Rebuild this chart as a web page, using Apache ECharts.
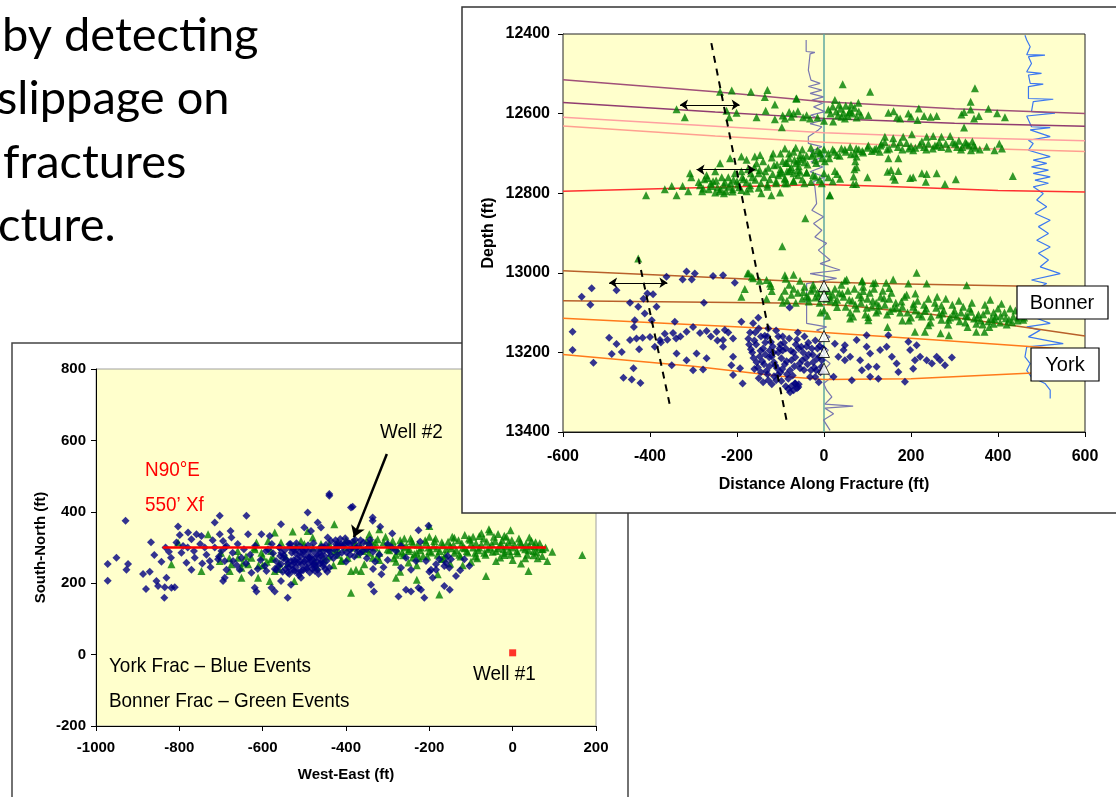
<!DOCTYPE html>
<html lang="en">
<head>
<meta charset="UTF-8">
<title>Microseismic events</title>
<script src="https://cdn.jsdelivr.net/npm/echarts@6/dist/echarts.min.js"></script>
<style>
  html, body { margin: 0; padding: 0; background: #fff; }
  #main { width: 1116px; height: 797px; }
</style>
</head>
<body>
<div id="main"></div>
<script type="text/javascript">
// ---- plan view (bottom-left), West-East vs South-North, ft ----
var planBlue = [
  [-929,375],[-972,254],[-972,207],[-951,271],[-923,254],[-927,238],[-887,226],[-871,232],[-868,315],[-880,184],
  [-855,206],[-851,192],[-835,189],[-831,215],[-819,187],[-811,189],[-836,159],[-860,279],[-843,260],[-833,300],
  [-820,271],[-825,288],[-803,359],[-799,335],[-807,314],[-791,304],[-779,342],[-771,323],[-795,285],[-783,257],
  [-771,238],[-763,271],[-759,337],[-747,332],[-739,300],[-727,262],[-715,300],[-703,389],[-715,370],[-703,337],
  [-695,318],[-687,304],[-677,346],[-675,328],[-699,290],[-691,262],[-687,238],[-671,262],[-639,389],[-635,337],
  [-655,238],[-603,337],[-583,332],[-587,295],[-595,248],[-591,234],[-627,229],[-567,238],[-556,365],[-560,300],
  [-536,309],[-532,262],[-500,356],[-492,398],[-484,346],[-468,370],[-460,356],[-444,328],[-440,243],[-452,300],
  [-424,309],[-412,309],[-396,314],[-388,412],[-440,445],[-336,375],[-579,187],[-571,177],[-540,159],[-556,206],
  [-532,196],[-508,215],[-508,234],[-488,271],[-472,248],[-460,276],[-516,257],[-524,234],[-619,187],[-615,177],
  [-691,215],[-695,206],[-707,267],[-651,271],
  [-440,290],[-430,270],[-420,300],[-410,285],[-400,260],[-390,295],[-380,275],[-370,305],[-360,290],[-350,270],
  [-340,300],[-425,320],[-405,310],[-385,315],[-365,320],[-345,310],[-440,450],[-384,414],
  [-336,384],[-318,358],[-289,339],[-226,348],[-202,361],[-222,316],[-268,304],[-256,271],[-268,243],[-244,238],
  [-232,262],[-208,262],[-200,232],[-192,215],[-184,253],[-176,267],[-164,248],[-160,257],[-148,267],[-152,243],
  [-136,220],[-126,236],[-116,267],[-104,248],[-340,196],[-333,177],[-274,163],[-256,182],[-244,177],[-226,187],
  [-220,182],[-212,159],[-164,192],[-151,182],[-196,238],[-184,238],[-156,276],
  [-320,280],[-300,265],[-290,300],[-310,245],[-330,260],[-280,290],[-300,310],[-335,240],[-315,225],
  [-780,300],[-765,290],[-750,310],[-735,280],[-720,320],[-705,275],[-690,300],[-672,285],[-660,310],[-645,295],
  [-630,280],[-618,305],[-605,265],[-592,290],[-578,310],[-745,255],[-725,245],[-662,250],[-640,255],[-612,240]
];
// the solid navy mass west of Well #2
var planBlueCore = [
  [-568,262],[-562,248],[-558,276],[-552,232],[-547,292],[-543,266],[-538,244],[-533,310],[-528,238],[-524,258],
  [-521,284],[-517,270],[-513,222],[-509,302],[-506,252],[-502,288],[-498,266],[-494,244],[-491,306],[-487,230],
  [-484,262],[-479,290],[-476,252],[-472,272],[-468,238],[-463,284],[-459,302],[-455,248],[-451,276],[-447,262],
  [-443,292],[-560,300],[-536,226],[-519,312],[-503,236],[-489,272],[-478,312],[-466,226],[-454,290],[-445,232],
  [-575,284],[-571,240],[-556,254],[-549,278],[-527,296],[-511,286],[-496,296],[-481,240],[-462,256],[-448,308],
  [-550,270],[-540,255],[-530,285],[-520,245],[-510,275],[-500,260],[-490,290],[-480,250],[-470,280],[-460,265],
  [-450,240],[-545,240],[-535,300],[-525,265],[-515,230],[-505,295],[-495,240],[-485,275],[-475,235],[-465,295],
  [-455,255],[-555,285],[-540,230],[-520,295],[-500,280],[-480,265],[-530,250],[-510,260],[-490,255],[-470,260],
  [-436,318],[-428,296],[-421,280],[-414,324],[-407,302],[-399,286],[-393,312],[-386,298],[-378,322],[-372,288],
  [-436,278],[-418,308],[-402,326],[-390,280],[-375,300],[-366,284],[-358,314],[-350,296],[-342,322],[-335,288]
];
var planGreen = [
  [-819,253],[-803,314],[-747,234],[-731,337],[-703,262],[-679,234],[-675,253],[-659,271],[-651,243],[-651,215],
  [-647,257],[-635,253],[-627,271],[-619,295],[-615,314],[-603,285],[-611,215],[-587,318],[-583,206],[-571,342],
  [-575,271],[-571,234],[-556,314],[-528,345],[-524,206],[-508,318],[-492,346],[-480,328],[-476,262],[-452,267],
  [-428,365],[-428,290],[-412,262],[-396,271],[-388,173],[-380,309],[-372,281],[-364,234],[-356,253],[-348,304],
  [-340,318],[-336,271],[-610,250],[-600,275],[-590,260],[-580,290],[-560,255],[-545,275],[-430,250],[-420,280],
  [-410,265],[-440,275],[-460,300],[-470,245],
  [-700,285],[-680,270],[-660,290],[-640,275],[-620,300],[-600,250],[-580,268],[-560,240],[-540,255],[-520,305],
  [-500,310],[-480,300],[-460,310],[-440,300],[-420,315],[-400,300],[-380,320],[-365,305],[-345,285],[-320,265],
  [-324,323],[-344,337],[-320,351],[-200,360],[-176,168],[-64,220],[-57,351],[-20,279],[0,265],[20,255],
  [38,234],[-5,348],[83,262],[95,288],[71,276],[167,279],[-388,234],[-376,238],[-280,260],[-250,258],
  [-230,250],[-150,255],[-120,250],[-100,260],[-40,262],[30,270],[60,270],[-440,310],[-420,295],[-400,320],
  [-380,300],[-360,290],[-350,320],[-280,215],[-270,232],[-230,210],[-180,225]
];
// the solid green band along the trend east of Well #2
var planGreenCore = [
  [-330,300],[-320,285],[-310,315],[-300,295],[-290,305],[-280,280],[-270,320],[-260,300],[-250,290],[-240,310],
  [-230,285],[-220,300],[-210,320],[-200,290],[-190,305],[-180,280],[-170,315],[-160,295],[-150,305],[-140,285],
  [-130,320],[-120,300],[-110,290],[-100,310],[-90,285],[-80,300],[-70,325],[-60,295],[-50,310],[-40,290],
  [-30,305],[-20,285],[-10,315],[0,300],[10,290],[20,310],[30,295],[40,305],[50,290],[60,300],
  [70,295],[79,300],[-325,275],[-305,330],[-285,270],[-265,285],[-245,325],[-225,270],[-205,275],[-185,325],
  [-165,270],[-145,330],[-125,275],[-105,325],[-85,270],[-65,280],[-45,330],[-25,320],[-5,280],[15,325],
  [35,280],[55,315],[-115,335],[-75,340],[-35,338],[-55,345],[-95,330],[-15,330],
  [-296,292],[-288,318],[-282,300],[-275,290],[-268,312],[-262,278],[-255,305],[-248,296],[-242,318],[-236,282],
  [-228,308],[-222,292],[-215,276],[-208,314],[-202,300],[-195,286],[-188,318],[-182,298],[-175,290],[-168,306],
  [-162,280],[-155,316],[-148,298],[-142,308],[-135,292],[-128,280],[-122,312],[-115,298],[-108,286],[-102,322],
  [-95,300],[-88,312],[-82,292],[-75,308],[-68,285],[-62,316],[-55,300],[-48,288],[-42,318],[-35,298],
  [-28,310],[-22,295],[-15,303],[-8,290],[-2,320],[5,306],[12,284],[18,316],[25,300],[32,310],
  [38,292],[45,318],[52,304],[58,286],[65,312],[72,296],[-260,325],[-200,330],[-140,327],[-80,332],
  [-20,333],[40,328],[-240,272],[-170,268],[-90,275],[-30,272],[50,278],[-300,310],[-350,295],[-330,315]
];
var fracTrend = [[-840,300],[80,300]];
var well1 = [[0,5]];
var well2Arrow = [[-302,562],[-381,329]];

// ---- section view (top-right), distance along fracture vs depth, ft ----
var bonnerEvents = [
  [-339,12589],[-320,12609],[-239,12545],[-212,12542],[-168,12545],[-130,12541],[-136,12558],[-113,12577],[-63,12562],[-224,12593],
  [-218,12609],[-201,12598],[-155,12609],[-134,12593],[-113,12614],[-97,12634],[-95,12605],[-80,12596],[-70,12600],[-60,12594],
  [-48,12609],[-32,12612],[-15,12610],[0,12618],[21,12620],[43,12526],[25,12566],[10,12590],[15,12600],[20,12582],
  [28,12595],[32,12605],[38,12588],[45,12598],[50,12580],[55,12606],[60,12592],[65,12600],[70,12585],[75,12610],
  [80,12595],[35,12578],[48,12612],[62,12578],[85,12604],[40,12608],[58,12596],[106,12545],[79,12573],[102,12604],
  [148,12598],[160,12594],[168,12609],[175,12612],[194,12600],[200,12608],[215,12616],[218,12587],[230,12606],[245,12608],
  [259,12606],[316,12602],[322,12596],[337,12570],[337,12590],[345,12612],[356,12606],[347,12536],[378,12588],[398,12599],
  [416,12609],[322,12635],[-64,12562],[-40,12604],[-90,12612],[-75,12608],
  [140,12658],[159,12662],[182,12658],[202,12652],[236,12658],[251,12656],[270,12658],[290,12656],
  [130,12680],[140,12672],[150,12688],[160,12676],[170,12684],[180,12690],[190,12674],[200,12682],[210,12686],[220,12678],
  [230,12684],[240,12676],[250,12688],[260,12680],[270,12684],[280,12676],[145,12690],[175,12672],[205,12692],[235,12690],
  [265,12672],[195,12688],[225,12670],[255,12680],[301,12676],[310,12668],[318,12684],[325,12672],[333,12680],[341,12670],
  [348,12686],[315,12690],[338,12692],[374,12683],[392,12692],[409,12688],[403,12676],
  [-100,12700],[-90,12688],[-80,12712],[-70,12696],[-60,12720],[-50,12690],[-40,12706],[-30,12686],[-20,12716],[-10,12698],
  [0,12690],[-85,12724],[-55,12704],[-25,12700],[-5,12712],[-65,12686],[-45,12722],[-15,12692],
  [10,12700],[20,12690],[30,12704],[40,12688],[50,12696],[60,12684],[70,12700],[80,12690],[90,12698],[100,12686],
  [110,12694],[120,12688],[128,12696],[75,12735],[148,12712],[171,12712],[154,12742],[171,12744],
  [-100,12750],[-90,12762],[-80,12745],[-70,12770],[-60,12755],[-50,12765],[-40,12748],[-30,12772],[-20,12758],[-10,12766],
  [0,12750],[10,12760],[20,12770],[30,12752],[37,12764],[-85,12775],[-45,12775],[-5,12775],[25,12744],
  [68,12758],[100,12760],[146,12746],[159,12758],[163,12766],[198,12762],[205,12760],[225,12750],[236,12752],[259,12750],
  [234,12771],[278,12777],[303,12765],[434,12757],[74,12777],[14,12805],
  [-409,12805],[-366,12790],[-339,12805],[-312,12795],[-350,12782],[-325,12782],[-308,12750],[-305,12760],
  [-285,12780],[-275,12765],[-265,12790],[-255,12770],[-245,12785],[-235,12760],[-225,12795],[-215,12775],[-205,12750],[-195,12785],
  [-185,12765],[-178,12795],[-270,12755],[-250,12745],[-230,12780],[-210,12790],[-200,12770],[-190,12745],[-260,12775],[-240,12795],
  [-220,12760],[-280,12795],[-239,12725],[-216,12712],[-190,12708],[-178,12716],[-159,12708],[-147,12704],[-117,12700],
  [-175,12740],[-165,12760],[-155,12725],[-145,12775],[-135,12745],[-125,12765],[-115,12730],[-105,12755],[-95,12720],[-85,12745],
  [-75,12735],[-65,12725],[-55,12715],[-170,12780],[-150,12750],[-130,12784],[-110,12775],[-90,12765],[-120,12710],[-100,12740],
  [-80,12700],[-160,12735],[-140,12720],[-70,12750],[-60,12742],[-144,12800],[-121,12805],[-101,12798],[-55,12746],[-40,12748],
  [-25,12754],[13,12805],[67,12777],[70,12740],[72,12720],[75,12708],
  [-43,12863],[-96,12933],[-427,12964],
  [-190,13060],[-182,13041],[-176,13002],[-166,13010],[-148,13020],[-132,13018],[-132,13065],[-122,13033],[-120,13046],[-124,13027],
  [-173,13001],[-163,13014],
  [-98,13060],[-90,13045],[-85,13070],[-80,13030],[-75,13055],[-70,13040],[-65,13075],[-60,13050],[-55,13020],[-50,13065],
  [-45,13035],[-40,13058],[-35,13072],[-30,13045],[-25,13030],[-20,13062],[-15,13050],[-10,13075],[-5,13040],[5,13065],
  [10,13045],[15,13070],[20,13055],[25,13040],[30,13068],[35,13050],[-95,13075],[-70,13005],[-88,13015],[-90,13006],
  [40,13030],[45,13060],[50,13085],[55,13045],[60,13100],[65,13070],[70,13040],[75,13090],[80,13055],[85,13075],
  [90,13035],[95,13105],[100,13065],[105,13050],[110,13085],[115,13040],[120,13075],[125,13095],[130,13060],[135,13045],
  [140,13080],[145,13105],[150,13065],[155,13050],[159,13090],[48,13020],[88,13020],[118,13025],[67,13110],[102,13111],
  [52,13017],[87,13022],[113,13026],[143,13025],[159,13017],[194,13027],[213,13000],[236,13027],[328,13031],
  [165,13075],[175,13100],[185,13060],[195,13120],[205,13085],[215,13070],[225,13110],[235,13090],[245,13125],[255,13075],
  [265,13105],[275,13095],[285,13130],[295,13080],[305,13110],[315,13100],[325,13125],[335,13090],[345,13115],[355,13105],
  [365,13130],[375,13095],[385,13115],[395,13110],[405,13125],[415,13100],[425,13118],[435,13110],[445,13120],[451,13105],
  [180,13085],[210,13095],[240,13065],[270,13118],[300,13095],[330,13110],[360,13120],[390,13100],[420,13130],[190,13055],
  [260,13060],[320,13085],[350,13128],[380,13136],[200,13112],[290,13112],[230,13080],[310,13070],[340,13075],[280,13065],
  [370,13080],[400,13090],[440,13095],[460,13112],[470,13106],[209,13148],[232,13148],[268,13152],[287,13157],[350,13148],
  [369,13148],[60,13115],[102,13119],[146,13136],[382,13068],[408,13078],[428,13090],[0,13095],[8,13108],[-8,13100]
];
// extra events filling the dense parts of the green bands
var bonnerCore = [
  [-288,12772],[-278,12788],[-268,12762],[-258,12782],[-248,12768],[-238,12790],[-228,12772],[-218,12784],[-208,12766],[-198,12778],
  [-188,12760],[-178,12772],[-168,12750],[-158,12766],[-148,12742],[-138,12760],[-128,12736],[-118,12752],[-108,12728],[-98,12746],
  [-88,12724],[-78,12740],[-68,12716],[-58,12732],[-48,12710],[-38,12728],[-28,12706],[-18,12724],[-8,12700],[2,12720],
  [-250,12798],[-230,12800],[-210,12796],[-190,12792],[-170,12788],[-150,12786],[-130,12778],[-110,12770],[-90,12775],[-70,12768],
  [12,12712],[24,12696],[36,12706],[48,12690],[62,12702],[74,12688],[88,12694],[102,12680],[116,12690],[132,12676],
  [286,12688],[296,12672],[306,12684],[328,12676],[344,12680],[358,12690],
  [-48,13048],[-36,13062],[-24,13040],[-12,13058],[2,13046],[14,13060],[26,13074],[42,13052],[58,13068],[72,13080],
  [86,13062],[98,13088],[112,13070],[126,13082],[138,13064],[152,13096],[166,13088],[178,13072],[192,13100],[206,13078],
  [218,13104],[232,13096],[246,13110],[258,13088],[272,13102],[286,13118],[298,13104],[312,13122],[326,13108],[338,13098],
  [352,13112],[366,13104],[378,13122],[392,13116],[406,13108],[418,13114],[432,13124],[446,13112],[458,13118],[466,13098],
  [30,13086],[90,13046],[150,13038],[210,13052],[270,13082],[330,13136],[390,13128],[120,13100],[180,13120],[240,13132]
];
var yorkEvents = [
  [-557,13060],[-534,13039],[-537,13080],[-477,13044],[-446,13075],[-427,13085],[-415,13065],[-406,13052],[-393,13054],[-385,13085],
  [-412,13102],[-396,13119],[-435,13119],[-437,13136],[-578,13148],[-578,13194],[-494,13163],[-477,13179],[-488,13204],[-465,13199],
  [-446,13169],[-431,13165],[-417,13163],[-425,13192],[-400,13161],[-530,13226],[-461,13264],[-442,13268],[-422,13277],[-438,13240],
  [-350,13232],[-389,13186],[-377,13169],[-366,13153],[-347,13151],[-343,13123],[-316,13148],[-301,13136],[-285,13151],[-270,13146],
  [-247,13148],[-228,13144],[-232,13169],[-209,13165],[-190,13123],[-163,13127],[-151,13113],[-339,13203],[-316,13220],[-293,13203],
  [-301,13245],[-278,13243],[-270,13215],[-232,13186],[-209,13211],[-213,13232],[-193,13240],[-187,13278],[-209,13257],
  [-362,13010],[-316,12997],[-297,13002],[-255,13008],[-232,13006],[-205,13025],[-276,13075],[-325,13017],[-304,13017],
  [-375,13175],[-360,13168],[-340,13165],[-330,13160],[-260,13160],[-245,13170],[-220,13150],
  [-170,13150],[-160,13170],[-150,13140],[-140,13190],[-130,13160],[-120,13210],[-110,13145],[-100,13180],[-90,13230],[-80,13165],
  [-70,13200],[-60,13150],[-50,13220],[-40,13185],[-30,13245],[-20,13170],[-10,13210],[-165,13200],[-155,13225],[-145,13250],
  [-135,13175],[-125,13235],[-115,13260],[-105,13200],[-95,13160],[-85,13255],[-75,13220],[-65,13180],[-55,13240],[-45,13160],
  [-35,13205],[-25,13225],[-15,13190],[-172,13180],[-158,13150],[-148,13210],[-138,13230],[-128,13140],[-118,13185],[-108,13240],
  [-98,13215],[-88,13190],[-78,13245],[-68,13235],[-58,13190],[-48,13200],[-38,13230],[-28,13190],[-18,13245],[-150,13265],
  [-140,13275],[-130,13255],[-120,13280],[-110,13270],[-100,13250],[-145,13160],[-135,13205],[-125,13195],[-115,13225],[-105,13160],
  [-95,13195],[-75,13285],[-70,13295],[-62,13290],[-58,13280],[-66,13278],[-79,13087],[-20,13262],[-8,13250],[-5,13220],
  [-12,13275],[-2,13190],
  [25,13178],[48,13182],[45,13194],[75,13169],[98,13157],[98,13186],[106,13203],[129,13194],[144,13186],[156,13211],
  [167,13228],[171,13249],[186,13274],[194,13173],[198,13194],[213,13182],[209,13220],[205,13241],[221,13211],[236,13220],
  [248,13228],[259,13211],[267,13220],[278,13232],[294,13213],[60,13211],[64,13270],[83,13220],[87,13245],[102,13236],
  [106,13261],[125,13266],[148,13157],[48,13220],[33,13211],[22,13261],[-67,13278],[-59,13287],[121,13236]
];
var yorkCore = [
  [-174,13166],[-168,13192],[-162,13214],[-156,13180],[-152,13238],[-146,13196],[-142,13222],[-136,13158],[-132,13246],[-126,13212],
  [-122,13174],[-116,13200],[-112,13232],[-106,13256],[-102,13190],[-96,13242],[-92,13176],[-86,13222],[-82,13266],[-76,13196],
  [-72,13258],[-66,13212],[-62,13168],[-56,13228],[-52,13186],[-46,13244],[-42,13214],[-36,13176],[-32,13262],[-26,13206],
  [-22,13238],[-16,13216],[-10,13184],[-6,13236],[-160,13242],[-128,13270],[-98,13272],[-88,13285],[-82,13292],[-78,13300]
];
var perfShots = [[0,13033],[0,13058],[0,13159],[0,13199],[0,13241]];
var wellTrace = [[0,12400],[0,13400]];
var topMarker1 = [[-600,12515],[-250,12545],[0,12570],[300,12588],[600,12600]];
var topMarker2 = [[-600,12572],[-250,12596],[0,12612],[300,12624],[600,12632]];
var topMarker3 = [[-600,12609],[-250,12632],[0,12648],[300,12660],[600,12668]];
var topMarker4 = [[-600,12631],[-250,12656],[0,12672],[300,12686],[600,12695]];
var topMarker5 = [[-600,12795],[-250,12785],[0,12778],[150,12783],[400,12793],[600,12797]];
var bonnerTop = [[-600,12995],[-355,13007],[-67,13021],[125,13027],[442,13033],[600,13035]];
var bonnerBase = [[-600,13070],[-100,13076],[50,13082],[250,13105],[450,13135],[600,13159]];
var yorkTop = [[-600,13114],[-100,13141],[0,13150],[250,13168],[480,13186],[600,13195]];
var yorkBase = [[-600,13205],[-300,13235],[-100,13260],[0,13268],[200,13266],[480,13252],[600,13250]];
var faultLong = [[-259,12423],[-86,13371]];
var faultShort = [[-427,12961],[-355,13329]];
var widthArrows = [
  [[-331,12578],[-194,12578]],
  [[-293,12741],[-158,12741]],
  [[-494,13025],[-360,13025]]
];
var grayLog = [
  [-41,12415],[-41,12444],[-21,12446],[-21,12448],[-32,12450],[-36,12491],[-30,12516],[-9,12524],[-36,12532],[-5,12541],
  [-32,12549],[-1,12558],[-28,12566],[-3,12574],[-24,12583],[2,12595],[-30,12604],[-1,12616],[-32,12625],[-5,12633],
  [-13,12641],[-36,12658],[-36,12675],[-5,12683],[-32,12696],[-1,12708],[-30,12721],[-3,12734],[-32,12746],[2,12759],
  [-24,12771],[-21,12784],[-17,12826],[-28,12843],[-1,12859],[-24,12876],[-5,12893],[-21,12910],[6,12926],[-13,12943],
  [14,12968],[-9,12977],[37,12993],[-32,13002],[29,13014],[-40,13027],[-40,13127],[6,13136],[-17,13144],[14,13161],
  [-13,13178],[10,13194],[-5,13211],[14,13228],[-1,13245],[18,13262],[-1,13278],[6,13295],[18,13312],[2,13330],
  [67,13335],[2,13340],[22,13354],[-1,13370],[14,13396]
];
var blueLog = [
  [462,12403],[466,12415],[474,12432],[466,12452],[508,12453],[470,12457],[477,12474],[466,12495],[500,12499],[470,12503],
  [474,12524],[504,12526],[470,12532],[470,12562],[527,12564],[481,12570],[477,12595],[531,12599],[466,12606],[477,12633],
  [520,12635],[474,12641],[520,12658],[470,12667],[481,12675],[470,12692],[520,12708],[481,12717],[512,12725],[477,12734],
  [516,12742],[481,12750],[520,12759],[485,12767],[516,12775],[481,12784],[504,12801],[489,12817],[512,12834],[485,12851],
  [520,12868],[493,12884],[516,12901],[489,12918],[520,12935],[493,12951],[516,12968],[497,12985],[543,13002],[477,13018],
  [512,13027],[481,13044],[508,13060],[477,13077],[497,13094],[481,13111],[520,13127],[466,13136],[497,13144],[470,13161],
  [550,13178],[466,13186],[462,13211],[474,13228],[466,13245],[477,13262],[508,13278],[520,13295],[520,13316]
];

var FONT = 'Liberation Sans';

function valueAxis(grid, min, max, size, labelMargin, extra) {
  var a = {
    type: 'value', gridIndex: grid, min: min, max: max, interval: 200,
    axisLine: { show: true, onZero: false, lineStyle: { color: '#000', width: 1 } },
    axisTick: { show: true, inside: false, length: 5, lineStyle: { color: '#000' } },
    splitLine: { show: false },
    axisLabel: { margin: labelMargin, color: '#000', fontFamily: FONT, fontWeight: 'bold', fontSize: size,
      formatter: function (v) { return String(v); } },
    nameTextStyle: { color: '#000', fontFamily: FONT, fontWeight: 'bold', fontSize: size },
    zlevel: grid
  };
  for (var k in extra) a[k] = extra[k];
  return a;
}

function sectionLine(data, color, width) {
  return {
    type: 'line', xAxisIndex: 1, yAxisIndex: 1, zlevel: 1, z: 3, data: data,
    symbol: 'none', silent: true,
    lineStyle: { color: color, width: width || 1.5 }
  };
}

function note(text, x, y, color) {
  return { type: 'text', x: x, y: y, scaleX: 0.9, zlevel: 0, z: 10,
    style: { text: text, font: '21px ' + FONT, fill: color || '#000', verticalAlign: 'middle' } };
}

var chart = echarts.init(document.getElementById('main'), null, { renderer: 'canvas' });

var option = {
  animation: false,
  backgroundColor: '#fff',
  grid: [
    { left: 96, top: 369, width: 500, height: 357, show: true, backgroundColor: '#ffffcc',
      borderColor: '#a0a0a0', borderWidth: 1, zlevel: 0 },
    { left: 563, top: 34, width: 522, height: 398, show: true, backgroundColor: '#ffffcc',
      borderColor: '#222', borderWidth: 1, zlevel: 1, z: 2 }
  ],
  xAxis: [
    valueAxis(0, -1000, 200, 15, 14, { name: 'West-East (ft)', nameLocation: 'middle', nameGap: 41 }),
    valueAxis(1, -600, 600, 16, 17, { name: 'Distance Along Fracture (ft)', nameLocation: 'middle', nameGap: 45 })
  ],
  yAxis: [
    valueAxis(0, -200, 800, 15, 10, { name: 'South-North (ft)', nameLocation: 'middle', nameGap: 48 }),
    valueAxis(1, 12400, 13400, 16, 13, { name: 'Depth (ft)', nameLocation: 'middle', nameGap: 66, inverse: true })
  ],
  series: [
    // plan view
    { type: 'scatter', xAxisIndex: 0, yAxisIndex: 0, zlevel: 0, data: planGreen.concat(planGreenCore),
      symbol: 'triangle', symbolSize: 8, itemStyle: { color: '#008000' } },
    { type: 'scatter', xAxisIndex: 0, yAxisIndex: 0, zlevel: 0, data: planBlue.concat(planBlueCore),
      symbol: 'diamond', symbolSize: 8, itemStyle: { color: '#000080' } },
    { type: 'line', xAxisIndex: 0, yAxisIndex: 0, zlevel: 0, z: 4, data: fracTrend, symbol: 'none',
      lineStyle: { color: '#ff0000', width: 2.5 } },
    { type: 'scatter', xAxisIndex: 0, yAxisIndex: 0, zlevel: 0, z: 4, data: well1,
      symbol: 'rect', symbolSize: 7, itemStyle: { color: '#ff0000' } },
    { type: 'lines', coordinateSystem: 'cartesian2d', xAxisIndex: 0, yAxisIndex: 0, zlevel: 0, z: 5,
      symbol: ['none', 'arrow'], symbolSize: 11,
      lineStyle: { color: '#000', width: 2.5, opacity: 1 },
      data: [{ coords: well2Arrow }] },

    // section view
    sectionLine(wellTrace, '#5fa8a0', 1.5),
    sectionLine(grayLog, '#7a78b0', 1.2),
    sectionLine(blueLog, '#3c78f0', 1.2),
    sectionLine(topMarker1, '#a05078', 1.5),
    sectionLine(topMarker2, '#903c70', 1.5),
    sectionLine(topMarker3, '#ffa0a0', 1.5),
    sectionLine(topMarker4, '#ffa090', 1.5),
    sectionLine(topMarker5, '#ff3030', 1.5),
    sectionLine(bonnerTop, '#b8602a', 1.5),
    sectionLine(bonnerBase, '#b8602a', 1.5),
    sectionLine(yorkTop, '#ff7a1a', 1.5),
    sectionLine(yorkBase, '#ff7a1a', 1.5),
    { type: 'scatter', xAxisIndex: 1, yAxisIndex: 1, zlevel: 1, z: 5, data: bonnerEvents.concat(bonnerCore),
      symbol: 'triangle', symbolSize: 8, itemStyle: { color: '#008000' } },
    { type: 'scatter', xAxisIndex: 1, yAxisIndex: 1, zlevel: 1, z: 5, data: yorkEvents.concat(yorkCore),
      symbol: 'diamond', symbolSize: 8, itemStyle: { color: '#000080' } },
    { type: 'scatter', xAxisIndex: 1, yAxisIndex: 1, zlevel: 1, z: 6, data: perfShots,
      symbol: 'triangle', symbolSize: 11, itemStyle: { color: '#fff', borderColor: '#000', borderWidth: 1 } },
    { type: 'line', xAxisIndex: 1, yAxisIndex: 1, zlevel: 1, z: 7, data: faultLong, symbol: 'none',
      lineStyle: { color: '#000', width: 2, type: [7, 6] } },
    { type: 'line', xAxisIndex: 1, yAxisIndex: 1, zlevel: 1, z: 7, data: faultShort, symbol: 'none',
      lineStyle: { color: '#000', width: 2, type: [7, 6] } },
    { type: 'lines', coordinateSystem: 'cartesian2d', xAxisIndex: 1, yAxisIndex: 1, zlevel: 1, z: 8,
      symbol: ['arrow', 'arrow'], symbolSize: 8,
      lineStyle: { color: '#000', width: 1.2, opacity: 1 },
      data: widthArrows.map(function (c) { return { coords: c }; }) }
  ],
  graphic: [
    // slide text
    { type: 'text', left: 2, top: 12, zlevel: 0, style: { text: 'by detecting', font: '47px Lato', fill: '#000' } },
    { type: 'text', left: -3, top: 75, zlevel: 0, style: { text: 'slippage on', font: '47px Lato', fill: '#000' } },
    { type: 'text', left: 3, top: 139, zlevel: 0, style: { text: 'fractures', font: '47px Lato', fill: '#000' } },
    { type: 'text', left: -2, top: 202, zlevel: 0, style: { text: 'cture.', font: '47px Lato', fill: '#000' } },

    // plan view frame and notes
    { type: 'rect', zlevel: 0, z: 1, shape: { x: 12, y: 343, width: 616, height: 480 },
      style: { fill: 'none', stroke: '#444', lineWidth: 1.5 } },
    note('N90\u00b0E', 145, 470, '#ff0000'),
    note('550\u2019 Xf', 145, 505, '#ff0000'),
    note('Well #2', 380, 432),
    note('Well #1', 473, 674),
    note('York Frac \u2013 Blue Events', 109, 666),
    note('Bonner Frac \u2013 Green Events', 109, 701),

    // section view frame (sits above the plan view)
    { type: 'rect', zlevel: 1, z: -10, shape: { x: 462, y: 7, width: 670, height: 506 },
      style: { fill: '#fff', stroke: '#333', lineWidth: 1.5 } },
    { type: 'group', zlevel: 1, z: 50, children: [
      { type: 'rect', zlevel: 1, z: 50, shape: { x: 1017, y: 286, width: 91, height: 33 },
        style: { fill: '#fff', stroke: '#000', lineWidth: 1.2 } },
      { type: 'text', zlevel: 1, z: 51, x: 1062, y: 303,
        style: { text: 'Bonner', font: '20px ' + FONT, fill: '#000', align: 'center', verticalAlign: 'middle' } },
      { type: 'rect', zlevel: 1, z: 50, shape: { x: 1031, y: 348, width: 68, height: 33 },
        style: { fill: '#fff', stroke: '#000', lineWidth: 1.2 } },
      { type: 'text', zlevel: 1, z: 51, x: 1065, y: 365,
        style: { text: 'York', font: '20px ' + FONT, fill: '#000', align: 'center', verticalAlign: 'middle' } }
    ] }
  ]
};

chart.setOption(option);
</script>
</body>
</html>
